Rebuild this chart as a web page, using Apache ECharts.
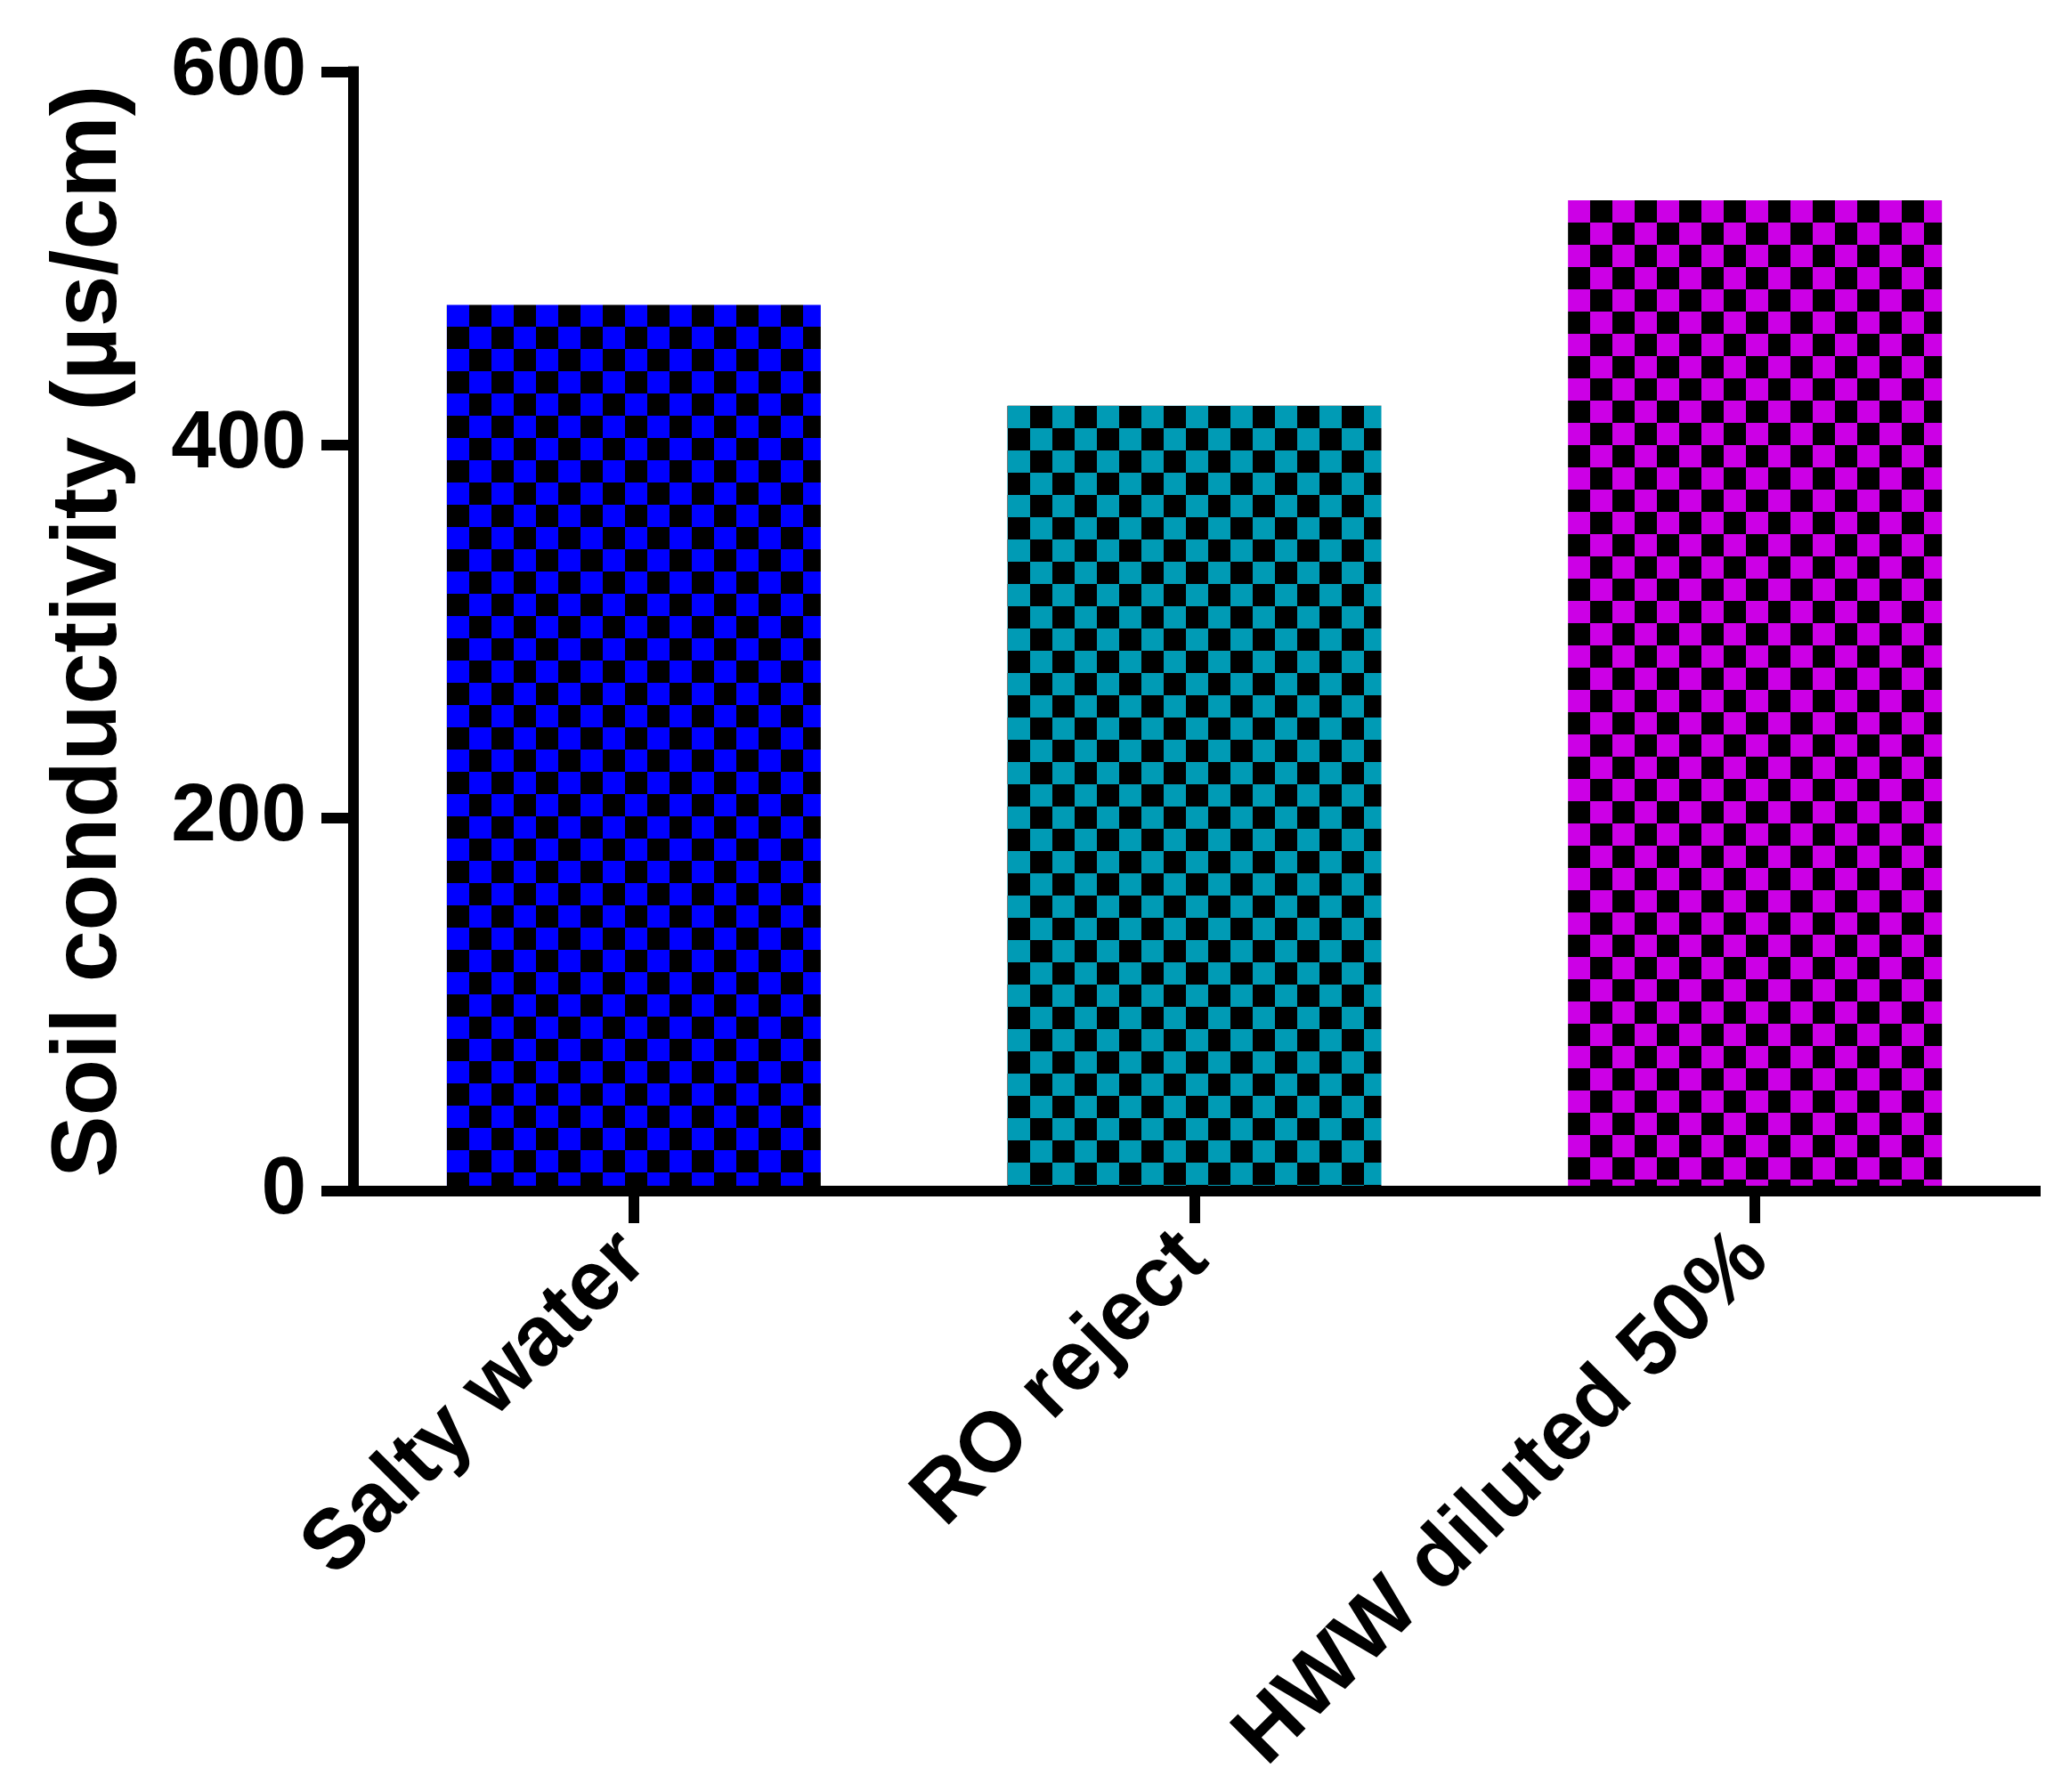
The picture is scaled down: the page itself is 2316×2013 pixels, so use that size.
<!DOCTYPE html>
<html lang="en">
<head>
    <meta charset="UTF-8">
    <title>Soil conductivity</title>
    <script src="https://cdn.jsdelivr.net/npm/echarts@6.0.0/dist/echarts.min.js"></script>
    <style>
        html, body { margin: 0; padding: 0; background: #fff; }
    </style>
</head>
<body>
    <div id="main" style="width: 2316px; height: 2013px;"></div>
    <script>
        // data
        const categories = ['Salty water', 'RO reject', 'HWW diluted 50%'];
        const values = [475, 421, 531];
        const barColors = ['#0000ff', '#009bb5', '#cc00e6'];
        const yTicks = [0, 200, 400, 600];

        const FONT = '"Liberation Sans", Arial, Helvetica, sans-serif';
        const CELL = 25;
        const BAR_W = 420;

        // checkerboard tile: coloured cell at top-left
        function checker(color) {
            const c = document.createElement('canvas');
            c.width = CELL * 2;
            c.height = CELL * 2;
            const ctx = c.getContext('2d');
            ctx.fillStyle = '#000';
            ctx.fillRect(0, 0, CELL * 2, CELL * 2);
            ctx.fillStyle = color;
            ctx.fillRect(0, 0, CELL, CELL);
            ctx.fillRect(CELL, CELL, CELL, CELL);
            return c;
        }
        const tiles = barColors.map(checker);

        const chart = echarts.init(document.getElementById('main'), null, { renderer: 'canvas' });

        function buildData(offsets) {
            return values.map((v, i) => ({
                value: v,
                itemStyle: {
                    color: {
                        image: tiles[i],
                        repeat: 'repeat',
                        x: offsets ? offsets[i][0] : 0,
                        y: offsets ? offsets[i][1] : 0
                    }
                }
            }));
        }

        const option = {
            animation: false,
            backgroundColor: '#fff',
            grid: {
                left: 397,
                right: 30,
                top: 80.5,
                bottom: 675,
                containLabel: false,
                outerBoundsMode: 'none'
            },
            xAxis: {
                type: 'category',
                data: categories,
                z: 10,
                axisLine: { show: true, lineStyle: { color: '#000', width: 12, cap: 'square' } },
                axisTick: { show: true, alignWithLabel: true, length: 36, lineStyle: { color: '#000', width: 12 } },
                axisLabel: {
                    rotate: 45,
                    margin: 62,
                    color: '#000',
                    fontSize: 95,
                    fontWeight: 'bold',
                    fontFamily: FONT,
                    interval: 0
                },
                splitLine: { show: false }
            },
            yAxis: {
                type: 'value',
                min: yTicks[0],
                max: yTicks[yTicks.length - 1],
                interval: 200,
                z: 10,
                name: 'Soil conductivity (µs/cm)',
                nameLocation: 'middle',
                nameGap: 244,
                nameTextStyle: {
                    color: '#000',
                    fontSize: 104,
                    fontWeight: 'bold',
                    fontFamily: FONT
                },
                axisLine: { show: true, lineStyle: { color: '#000', width: 12, cap: 'square' } },
                axisTick: { show: true, length: 36, lineStyle: { color: '#000', width: 12 } },
                axisLabel: {
                    margin: 53,
                    color: '#000',
                    fontSize: 91,
                    fontWeight: 'bold',
                    fontFamily: FONT
                },
                splitLine: { show: false }
            },
            series: [{
                type: 'bar',
                barWidth: BAR_W,
                data: buildData(null),
                z: 1
            }]
        };
        chart.setOption(option);

        // anchor each checkerboard at the top-left corner of its bar
        const offsets = values.map((v, i) => {
            const p = chart.convertToPixel({ seriesIndex: 0 }, [i, v]);
            return [Math.round(p[0] - BAR_W / 2), Math.round(p[1])];
        });
        chart.setOption({ series: [{ data: buildData(offsets) }] });
    </script>
</body>
</html>
